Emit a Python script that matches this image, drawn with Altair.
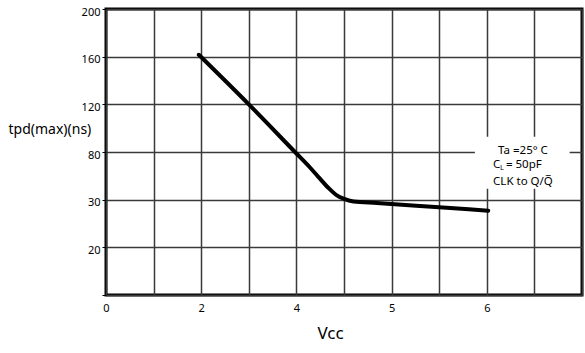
import altair as alt
import pandas as pd

# Grid positions (chart grid units) and the printed tick labels
x_grid = list(range(11))
x_tick_pos = [0, 2, 4, 6, 8]
x_tick_lbl = ["0", "2", "4", "5", "6"]
y_grid = list(range(7))
y_tick_pos = [1, 2, 3, 4, 5, 6]
y_tick_lbl = ["20", "30", "80", "120", "160", "200"]

# Curve, in grid units
vcc = [1.95, 3.0, 3.97, 4.29, 4.46, 4.67, 4.85, 4.99, 5.2, 5.69, 7.0, 8.03]
tpd = [5.04, 4.0, 3.0, 2.67, 2.48, 2.25, 2.09, 2.02, 1.96, 1.93, 1.84, 1.77]

# Annotation box and texts (grid units)
box = {"x": [7.75], "x2": [9.74], "y": [3.32], "y2": [2.23]}
note_x = 8.76
note_lines = ["Ta =25° C", "", "CLK to Q/Q\u0305"]
note_y = [3.03, 2.72, 2.38]

FONT = "Noto Sans"

def lbl_expr(pos, lbl):
    parts = " : ".join(f"datum.value == {p} ? '{l}'" for p, l in zip(pos, lbl))
    return parts + " : ''"

x_axis = alt.Axis(values=x_grid, labelExpr=lbl_expr(x_tick_pos, x_tick_lbl),
                  title="Vcc", titleFont=FONT, titleFontSize=17, titleFontWeight="normal",
                  titleX=224, titleY=38, titleBaseline="middle", titleColor="black",
                  labelFont=FONT, labelFontSize=11, labelColor="black", labelFlush=False,
                  tickSize=0, labelPadding=7, domain=False,
                  grid=True, gridColor="#3a3a3a", gridWidth=1.5)
y_axis = alt.Axis(values=y_grid, labelExpr=lbl_expr(y_tick_pos, y_tick_lbl),
                  title="tpd(max)(ns)", titleFont=FONT, titleFontSize=14, titleFontWeight="normal",
                  titleAngle=0, titleAlign="left", titleBaseline="middle",
                  titleX=-98, titleY=120, titleColor="black",
                  labelFont=FONT, labelFontSize=11, labelColor="black", labelFlush=False,
                  labelOffset=3, tickSize=4, tickColor="black", labelPadding=2, domain=False,
                  grid=True, gridColor="#3a3a3a", gridWidth=1.5)

xs = alt.Scale(domain=[0, 10], nice=False, zero=False)
ys = alt.Scale(domain=[0, 6], nice=False, zero=False)

line_df = pd.DataFrame({"x": vcc, "y": tpd})
line = alt.Chart(line_df).mark_line(color="black", strokeWidth=4, interpolate="monotone",
                                    strokeCap="round").encode(
    x=alt.X("x:Q", scale=xs, axis=x_axis),
    y=alt.Y("y:Q", scale=ys, axis=y_axis),
)

rect = alt.Chart(pd.DataFrame(box)).mark_rect(color="white").encode(
    x=alt.X("x:Q", scale=xs, axis=x_axis), x2="x2:Q",
    y=alt.Y("y:Q", scale=ys, axis=y_axis), y2="y2:Q",
)

notes_df = pd.DataFrame({"x": [note_x] * 3, "y": note_y, "t": note_lines})
notes = alt.Chart(notes_df).mark_text(font=FONT, fontSize=11.5, color="black",
                                      baseline="middle", align="center").encode(
    x=alt.X("x:Q", scale=xs, axis=x_axis),
    y=alt.Y("y:Q", scale=ys, axis=y_axis),
    text="t:N",
)

cl_df = pd.DataFrame({"x": [note_x], "y": [note_y[1]]})
cl_base = alt.Chart(cl_df).encode(
    x=alt.X("x:Q", scale=xs, axis=x_axis),
    y=alt.Y("y:Q", scale=ys, axis=y_axis),
)
c_txt = cl_base.mark_text(font=FONT, fontSize=11.5, color="black", baseline="middle",
                          align="left", dx=-30, text="C")
l_txt = cl_base.mark_text(font=FONT, fontSize=7.5, color="black", baseline="middle",
                          align="left", dx=-23, dy=3, text="L")
rest_txt = cl_base.mark_text(font=FONT, fontSize=11.5, color="black", baseline="middle",
                             align="left", dx=-17, text="= 50pF")

chart = alt.layer(rect, line, notes, c_txt, l_txt, rest_txt).properties(
    width=476, height=286,
    autosize=alt.AutoSizeParams(type="none"),
    padding={"left": 106, "top": 9, "right": 3, "bottom": 58},
    background="white",
).configure_view(stroke="black", strokeWidth=3)

chart.save("out.html", embed_options={"renderer": "svg", "actions": False})
